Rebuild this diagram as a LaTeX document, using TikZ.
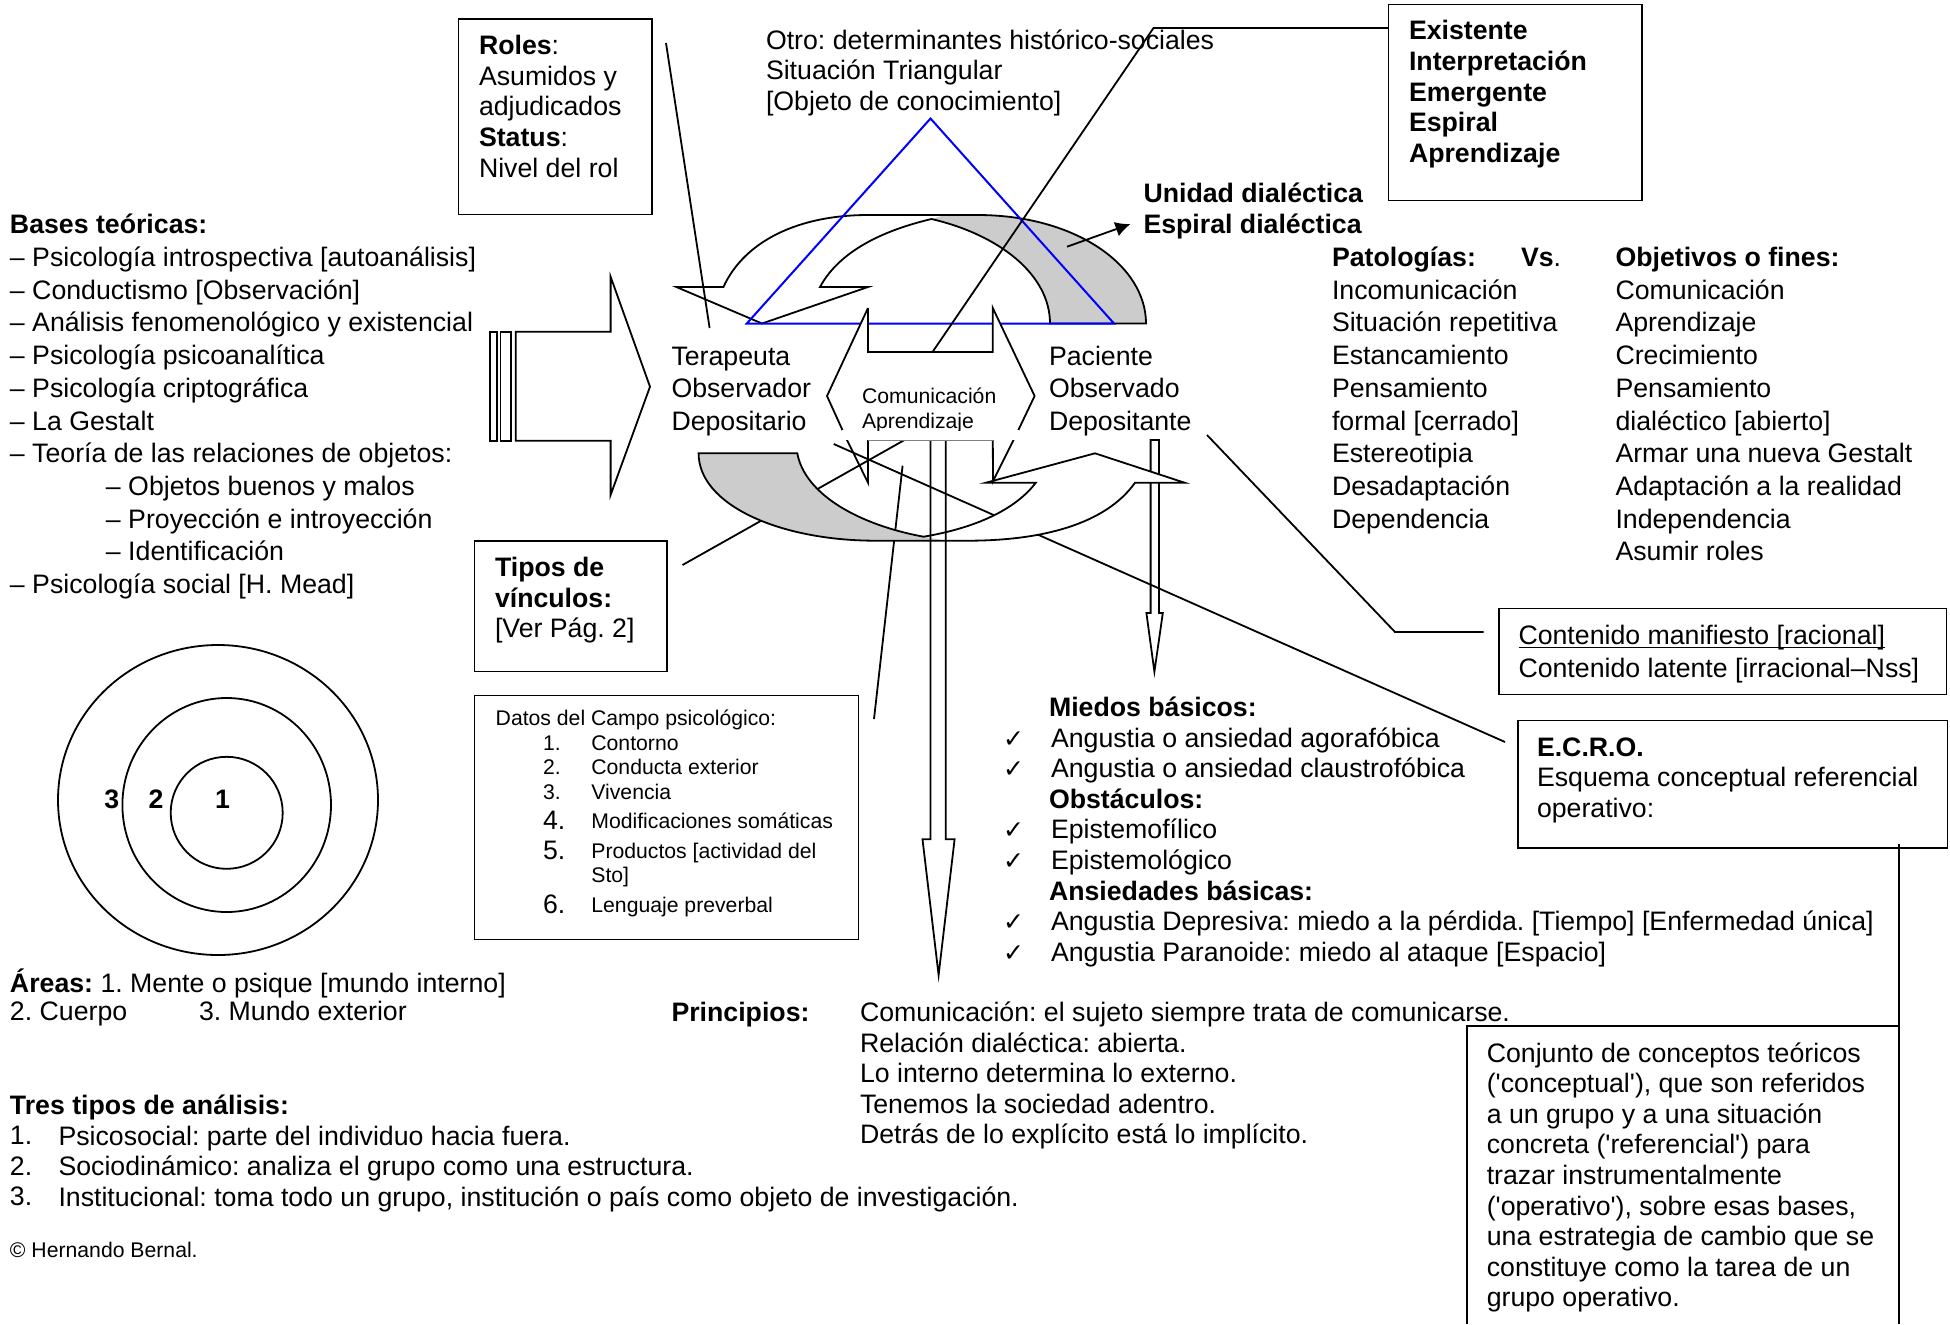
\documentclass[tikz,border=0pt]{standalone}
\usetikzlibrary{arrows.meta}
\usepackage{fontspec}
\setmainfont{Liberation Sans}
\newfontfamily\symf{DejaVu Sans}
\definecolor{grayfill}{gray}{0.8}
\frenchspacing
\tikzset{
 txt/.style={anchor=north west,inner sep=0pt,outer sep=0pt,align=left,yshift=9.46pt,font=\fontsize{13.35}{15.3}\selectfont\frenchspacing},
 wide/.style={font=\fontsize{13.35}{16.35}\selectfont\frenchspacing,yshift=0.74pt},
 small/.style={font=\fontsize{10.6}{12.5}\selectfont\frenchspacing,yshift=-1.2pt},
 lbl/.style={anchor=center,inner sep=0pt,outer sep=0pt,font=\fontsize{13.35}{15.3}\selectfont\bfseries},
 ln/.style={draw=black,line width=0.9pt,line join=miter},
 boxn/.style={ln,anchor=north west,inner sep=0pt,outer sep=0pt},
 tri/.style={draw=blue,line width=1pt},
}
\newcommand{\ck}{{\symf\fontsize{12.5}{15.3}\selectfont ✓}}
\newcommand{\sq}{\textquotesingle}
\begin{document}
\begin{tikzpicture}[x=0.5pt,y=-0.5pt]
\useasboundingbox (0,0) rectangle (1950,1324);
% coordinates
\coordinate (rolesA) at (666,43);
\coordinate (rolesB) at (709.6,328);
\coordinate (unA) at (1067,246.7);
\coordinate (unB) at (1130.5,224);
\coordinate (exA) at (932.5,352);
\coordinate (exB) at (1153.5,28);
\coordinate (exC) at (1388,28);
\coordinate (depA) at (1207,435);
\coordinate (depB) at (1395,632);
\coordinate (depC) at (1483.6,632);
\coordinate (ecA) at (833.7,444);
\coordinate (ecB) at (1505,742);
\coordinate (tipA) at (682.5,565);
\coordinate (tipB) at (904.5,440);
\coordinate (datA) at (902.6,465.7);
\coordinate (datB) at (874,719);
\coordinate (ecoA) at (1899,844);
\coordinate (ecoB) at (1899,1156);
% boxes
\node[boxn,minimum width=96.75pt,minimum height=97.75pt] (rolesbox) at (458.5,19) {};
\node[boxn,minimum width=126.8pt,minimum height=98pt] (exbox) at (1388.5,4.5) {};
\node[boxn,minimum width=96.25pt,minimum height=65.25pt] (tipbox) at (474.5,541) {};
\node[boxn,minimum width=192pt,minimum height=122pt] (datbox) at (474.5,695.5) {};
\node[boxn,minimum width=223.75pt,minimum height=43pt] (conbox) at (1499,608.5) {};
\node[boxn,minimum width=214.75pt,minimum height=63.75pt] (ecrobox) at (1518,720.5) {};
\draw[ln] (1466.7,1324) -- (1466.7,1026) -- (1899,1026) -- (1899,1324);
\draw[ln] (ecoA) -- (ecoB);
% left block arrow
\draw[ln] (490,331.7) rectangle (497,440.7);
\draw[ln] (500.4,331.7) rectangle (510.6,440.7);
\draw[ln] (515.7,331.7) -- (610.6,331.7) -- (610.6,276.7) -- (650,386.7) -- (610.6,495) -- (610.6,440.7) -- (515.7,440.7) -- cycle;
% lines below the lower arrow
\draw[ln] (tipA) -- (tipB);
\draw[ln] (datA) -- (datB);
\draw[ln] (ecA) -- (ecB);
\draw[ln] (depA) -- (depB) -- (depC);
% small vertical arrow
\draw[ln] (1150.6,440) -- (1159,440) -- (1159,613) -- (1162.8,613) -- (1154.4,671.7) -- (1146.4,613) -- (1150.6,613) -- cycle;
% lower curved arrow
\path[fill=white] (1095,453.3) -- (1184.6,482.7) -- (1135,482.7)
  .. controls (1105,525) and (1040,540.7) .. (967.6,540.7) -- (875.8,540.7)
  .. controls (780,540.7) and (698.6,505) .. (698.6,453.3) -- (797.3,453.3)
  .. controls (805,495) and (860,525) .. (923.6,536.7)
  .. controls (975,528) and (1015,510) .. (1035.8,482.7) -- (986,482.7) -- cycle;
\path[fill=grayfill] (698.6,453.3) -- (797.3,453.3)
  .. controls (805,495) and (860,525) .. (923.6,536.7) -- (945,540.7) -- (875.8,540.7)
  .. controls (780,540.7) and (698.6,505) .. cycle;
\draw[ln] (1095,453.3) -- (1184.6,482.7) -- (1135,482.7)
  .. controls (1105,525) and (1040,540.7) .. (967.6,540.7) -- (875.8,540.7)
  .. controls (780,540.7) and (698.6,505) .. (698.6,453.3) -- (797.3,453.3)
  .. controls (805,495) and (860,525) .. (923.6,536.7)
  .. controls (975,528) and (1015,510) .. (1035.8,482.7) -- (986,482.7) -- cycle;
% long vertical arrow
\draw[ln] (930.4,440) -- (930.4,839.3) -- (922.5,839.3) -- (938.6,975) -- (954.6,839.3) -- (945.7,839.3) -- (945.7,440);
% upper curved arrow
\path[fill=white] (676.4,287) -- (723.4,287) .. controls (745,240) and (800,215) .. (868,215)
  -- (977.5,215) .. controls (1075,215) and (1146,265) .. (1146,323.5) -- (1050,323.5)
  .. controls (1050,275) and (1000,235) .. (931.5,219)
  .. controls (885,230) and (840,250) .. (820,287) -- (868,287) -- (762,323.5) -- cycle;
\path[fill=grayfill] (931.5,219) -- (945,215) -- (977.5,215) .. controls (1075,215) and (1146,265) .. (1146,323.5)
  -- (1050,323.5) .. controls (1050,275) and (1000,235) .. cycle;
\draw[ln] (676.4,287) -- (723.4,287) .. controls (745,240) and (800,215) .. (868,215)
  -- (977.5,215) .. controls (1075,215) and (1146,265) .. (1146,323.5) -- (1050,323.5)
  .. controls (1050,275) and (1000,235) .. (931.5,219)
  .. controls (885,230) and (840,250) .. (820,287) -- (868,287) -- (762,323.5) -- cycle;
% triangle
\draw[tri] (930.5,118.5) -- (1114,323.5) -- (746.8,323.5) -- cycle;
% centre hexagon
\path[fill=white] (827,396) -- (868,308) -- (868,352) -- (992.8,352) -- (992.8,308) -- (1034.6,396) -- (1019,440) -- (842,440) -- cycle;
\draw[ln] (868,308) -- (827,396) -- (847,440) -- (868,482.7) -- (868,440);
\draw[ln] (868,308) -- (868,352) -- (992.8,352) -- (992.8,308) -- (1034.6,396) -- (1013.6,440) -- (993,481) -- (992.8,440);
\draw[ln] (exA) -- (exB) -- (exC);
\draw[ln] (rolesA) -- (rolesB);
\draw[ln,-{Latex[length=7.5pt,width=7.5pt]}] (unA) -- (unB);
% texts
\node[txt,wide] (bases) at (10,231.3) {\strut\textbf{Bases teóricas:}\\– Psicología introspectiva [autoanálisis]\\– Conductismo [Observación]\\– Análisis fenomenológico y existencial\\– Psicología psicoanalítica\\– Psicología criptográfica\\– La Gestalt\\– Teoría de las relaciones de objetos:\\\hspace*{48pt}– Objetos buenos y malos\\\hspace*{48pt}– Proyección e introyección\\\hspace*{48pt}– Identificación\\– Psicología social [H. Mead]};
\node[txt] (roles) at (479,52.2) {\strut\textbf{Roles}:\\Asumidos y\\adjudicados\\\textbf{Status}:\\Nivel del rol};
\node[txt] (otro) at (766,46.5) {\strut Otro: determinantes histórico-sociales\\Situación Triangular\\{[Objeto de conocimiento]}};
\node[txt,font=\fontsize{13.35}{15.3}\selectfont\bfseries] (exist) at (1409,37.4) {\strut Existente\\Interpretación\\Emergente\\Espiral\\Aprendizaje};
\node[txt,font=\fontsize{13.35}{15.3}\selectfont\bfseries] (unidad) at (1143.5,200) {\strut Unidad dialéctica\\Espiral dialéctica};
\node[txt,wide] (pato) at (1332,264) {\strut\textbf{Patologías:}\\Incomunicación\\Situación repetitiva\\Estancamiento\\Pensamiento\\formal [cerrado]\\Estereotipia\\Desadaptación\\Dependencia};
\node[txt,wide] (vs) at (1521,264) {\strut\textbf{Vs}.};
\node[txt,wide] (obj) at (1615.5,264) {\strut\textbf{Objetivos o fines:}\\Comunicación\\Aprendizaje\\Crecimiento\\Pensamiento\\dialéctico [abierto]\\Armar una nueva Gestalt\\Adaptación a la realidad\\Independencia\\Asumir roles};
\node[txt,wide] (tera) at (671.5,362.5) {\strut Terapeuta\\Observador\\Depositario};
\node[txt,wide] (paci) at (1049,362.5) {\strut Paciente\\Observado\\Depositante};
\path[fill=white] (842,430) rectangle (1019,440);
\node[txt,small] (comu) at (862,403) {\strut Comunicación};
\begin{scope}
\clip (842,380) rectangle (1019,430);
\node[txt,small] (apre) at (862,428) {\strut Aprendizaje};
\end{scope}
\draw[line width=0.5pt,draw=gray] (868,440) -- (992.8,440);
\node[txt] (tipos) at (495,574) {\strut\textbf{Tipos de}\\\textbf{vínculos:}\\{[Ver Pág. 2]}};
% datos
\node[txt,small] (d0) at (495.7,725) {\strut Datos del Campo psicológico:};
\node[txt,small] (n1) at (543,750) {\strut 1.};
\node[txt,small] (t1) at (591.4,750) {\strut Contorno};
\node[txt,small] (n2) at (543,774) {\strut 2.};
\node[txt,small] (t2) at (591.4,774) {\strut Conducta exterior};
\node[txt,small] (n3) at (543,799) {\strut 3.};
\node[txt,small] (t3) at (591.4,799) {\strut Vivencia};
\node[txt] (n4) at (543,827) {\strut 4.};
\node[txt,small] (t4) at (591.4,828) {\strut Modificaciones somáticas};
\node[txt] (n5) at (543,857) {\strut 5.};
\node[txt,small] (t5) at (591.4,858) {\strut Productos [actividad del};
\node[txt,small] (t5b) at (591.4,882) {\strut Sto]};
\node[txt] (n6) at (543,911) {\strut 6.};
\node[txt,small] (t6) at (591.4,912) {\strut Lenguaje preverbal};
% circles
\draw[ln] (218,800) ellipse [x radius=160,y radius=155];
\draw[ln] (226.7,805) ellipse [x radius=104.3,y radius=107];
\draw[ln] (226.7,812.8) ellipse [x radius=56,y radius=56];
\node[lbl] (l3) at (111.7,799) {3};
\node[lbl] (l2) at (156,799) {2};
\node[lbl] (l1) at (222.5,799) {1};
% areas etc
\node[txt] (areas) at (10,987.7) {\strut\textbf{Áreas:} 1. Mente o psique [mundo interno]};
\node[txt] (cuerpo) at (10,1018) {\strut 2. Cuerpo};
\node[txt] (mundo) at (199,1018) {\strut 3. Mundo exterior};
\node[txt] (tres) at (10,1111.5) {\strut\textbf{Tres tipos de análisis:}\\1.\\2.\\3.};
\node[txt] (tresb) at (58.5,1142.5) {\strut Psicosocial: parte del individuo hacia fuera.\\Sociodinámico: analiza el grupo como una estructura.\\Institucional: toma todo un grupo, institución o país como objeto de investigación.};
\node[txt,small] (copy) at (10,1257) {\strut © Hernando Bernal.};
\node[txt] (prin) at (671.5,1019) {\strut\textbf{Principios:}};
\node[txt] (prinb) at (860,1019) {\strut Comunicación: el sujeto siempre trata de comunicarse.\\Relación dialéctica: abierta.\\Lo interno determina lo externo.\\Tenemos la sociedad adentro.\\Detrás de lo explícito está lo implícito.};
\node[txt] (miedos) at (1049,713.8) {\strut\textbf{Miedos básicos:}};
\node[txt] (k1) at (1003,744.9) {\strut\ck};
\node[txt] (m1) at (1051,744.9) {\strut Angustia o ansiedad agorafóbica};
\node[txt] (k2) at (1003,774.8) {\strut\ck};
\node[txt] (m2) at (1051,774.8) {\strut Angustia o ansiedad claustrofóbica};
\node[txt] (obst) at (1049,806) {\strut\textbf{Obstáculos:}};
\node[txt] (k3) at (1003,835.7) {\strut\ck};
\node[txt] (m3) at (1051,835.7) {\strut Epistemofílico};
\node[txt] (k4) at (1003,866.8) {\strut\ck};
\node[txt] (m4) at (1051,866.8) {\strut Epistemológico};
\node[txt] (ansi) at (1049,897.9) {\strut\textbf{Ansiedades básicas:}};
\node[txt] (k5) at (1003,927.8) {\strut\ck};
\node[txt] (m5) at (1051,927.8) {\strut Angustia Depresiva: miedo a la pérdida. [Tiempo] [Enfermedad única]};
\node[txt] (k6) at (1003,959) {\strut\ck};
\node[txt] (m6) at (1051,959) {\strut Angustia Paranoide: miedo al ataque [Espacio]};
\node[txt] (cona) at (1518.5,641.7) {\strut\underline{\smash{Contenido manifiesto [racional]}}};
\node[txt] (conb) at (1518.5,675.3) {\strut Contenido latente [irracional–Nss]};
\node[txt] (ecro) at (1537,753.6) {\strut\textbf{E.C.R.O.}\\Esquema conceptual referencial\\operativo:};
\node[txt] (conj) at (1486.8,1059.5) {\strut Conjunto de conceptos teóricos\\(\sq conceptual\sq), que son referidos\\a un grupo y a una situación\\concreta (\sq referencial\sq) para\\trazar instrumentalmente\\(\sq operativo\sq), sobre esas bases,\\una estrategia de cambio que se\\constituye como la tarea de un\\grupo operativo.};
\end{tikzpicture}
\end{document}
